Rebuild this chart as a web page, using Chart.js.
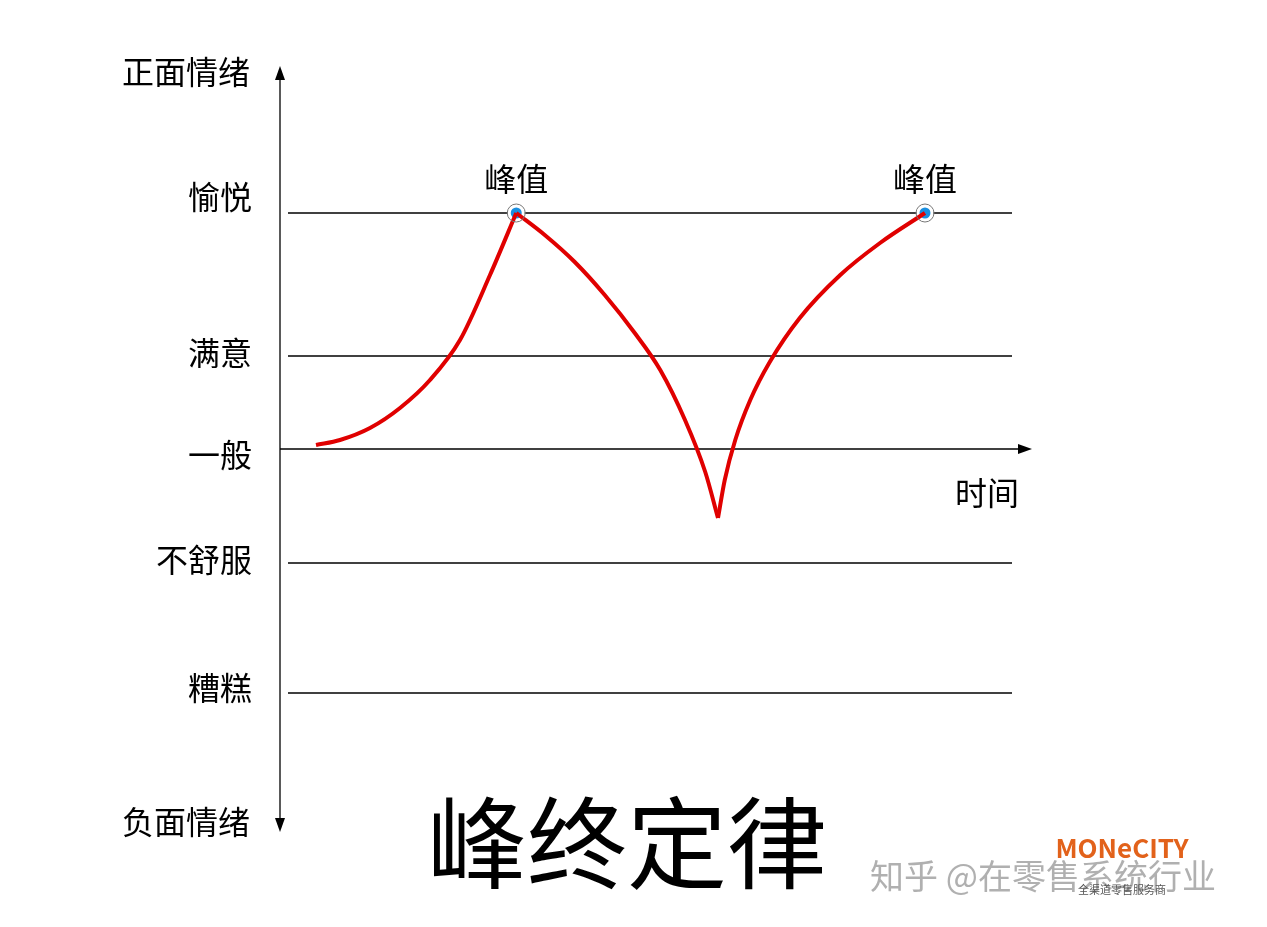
<!DOCTYPE html>
<html><head><meta charset="utf-8">
<script src="https://cdn.jsdelivr.net/npm/chart.js@4/dist/chart.umd.min.js"></script>
<style>html,body{margin:0;background:#fff}#w{width:1267px;height:927px}</style>
</head><body><div id="w"><canvas id="c"></canvas></div>
<script>
const levelNames = ['愉悦','满意','一般','不舒服','糟糕'];
const levelValues = [2.36, 0.93, 0, -1.14, -2.44];
const axisTop = '正面情绪', axisBottom = '负面情绪', axisX = '时间';
const riseX = [4.8,8,12,16,20,24,28,31.5];
const riseY = [0.04,0.09,0.21,0.41,0.69,1.09,1.74,2.36];
const fallX = [31.5,35.3,39.3,43.3,47.3,50.7,54,56.7,58.4];
const fallY = [2.36,2.14,1.87,1.54,1.16,0.79,0.29,-0.23,-0.69];
const recX = [58.4,59.3,60.7,62.7,65.3,69.3,74.7,80,86];
const recY = [-0.69,-0.31,0.09,0.49,0.87,1.31,1.74,2.06,2.36];
const peakX = [31.5,86], peakY = [2.36,2.36];
const peakLabel = '峰值';
const title = '峰终定律';
const xy = (a,b) => a.map((v,i) => ({x:v, y:b[i]}));
const F = '"Noto Sans CJK SC", sans-serif';
const red = {borderColor:'#e00000', borderWidth:4, pointRadius:0, cubicInterpolationMode:'monotone', fill:false};
const labelShift = [-16,-3,6,-3,-5];
const deco = {
  id:'deco',
  beforeDatasetsDraw(ch){
    const c=ch.ctx, x=ch.scales.x, y=ch.scales.y;
    c.save(); c.strokeStyle='#000'; c.fillStyle='#000'; c.lineWidth=1.3;
    levelValues.forEach(v=>{ if(v===0) return; const py=y.getPixelForValue(v);
      c.beginPath(); c.moveTo(288,py); c.lineTo(1012,py); c.stroke();});
    const y0=y.getPixelForValue(0), xl=x.left;
    c.beginPath(); c.moveTo(xl,y0); c.lineTo(1024,y0); c.stroke();
    c.beginPath(); c.moveTo(1032,y0); c.lineTo(1018,y0-5); c.lineTo(1018,y0+5); c.fill();
    c.beginPath(); c.moveTo(xl,80); c.lineTo(xl,818); c.stroke();
    c.beginPath(); c.moveTo(xl,66); c.lineTo(xl-5,80); c.lineTo(xl+5,80); c.fill();
    c.beginPath(); c.moveTo(xl,832); c.lineTo(xl-5,818); c.lineTo(xl+5,818); c.fill();
    c.font='32px '+F; c.textAlign='right'; c.textBaseline='middle';
    levelNames.forEach((n,i)=>c.fillText(n,252,y.getPixelForValue(levelValues[i])+labelShift[i]));
    c.fillText(axisTop,250,72); c.fillText(axisBottom,250,822);
    c.textAlign='center';
    peakX.forEach(p=>c.fillText(peakLabel,x.getPixelForValue(p),179));
    c.fillText(axisX,987,493);
    c.font='100px '+F; c.fillText(title,627,843);
    c.font='34px '+F; c.fillStyle='rgba(150,150,150,0.75)'; c.fillText('知乎 @在零售系统行业',1043,876);
    c.font='bold 26px '+F; c.fillStyle='#e2621b'; c.fillText('MONeCITY',1122,848);
    c.font='11px '+F; c.fillStyle='#555'; c.fillText('全渠道零售服务商',1122,890);
    c.restore();
  }
};
new Chart(document.getElementById('c'),{
  type:'line',
  data:{datasets:[
    {...red, data:xy(riseX,riseY)},{...red, data:xy(fallX,fallY)},{...red, data:xy(recX,recY)},
    {type:'scatter', data:xy(peakX,peakY), pointRadius:7, pointBackgroundColor:'#1a8fe0', pointBorderColor:'#fff', pointBorderWidth:3, showLine:false}
  ]},
  plugins:[deco, {id:'ring',afterDatasetsDraw(ch){const c=ch.ctx;c.save();c.strokeStyle='#777';c.lineWidth=1;
    peakX.forEach((p,i)=>{c.beginPath();c.arc(ch.scales.x.getPixelForValue(p),ch.scales.y.getPixelForValue(peakY[i]),9,0,7);c.stroke();});c.restore();}}],
  options:{responsive:true, maintainAspectRatio:false, animation:false,
    layout:{padding:{left:280,right:237,top:69,bottom:98}},
    plugins:{legend:{display:false},tooltip:{enabled:false}},
    scales:{x:{type:'linear',min:0,max:100,display:false},y:{min:-3.8,max:3.8,display:false}}}
});
</script></body></html>
